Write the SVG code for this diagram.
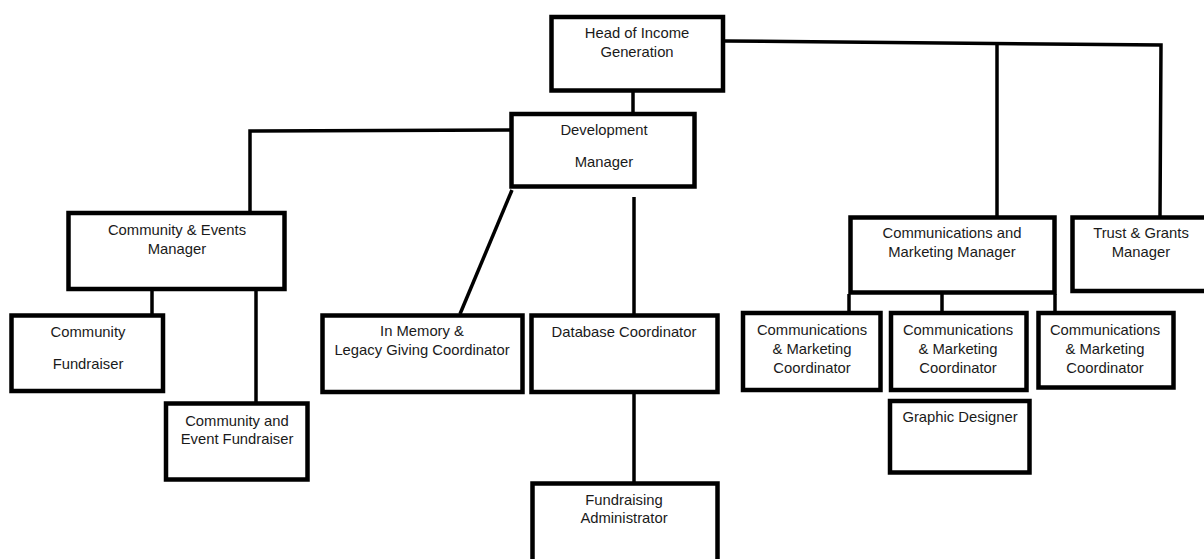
<svg xmlns="http://www.w3.org/2000/svg" width="1204" height="559" viewBox="0 0 1204 559">
<style>
.box{fill:#fff;stroke:#000;stroke-width:4.5}
.ln{fill:none;stroke:#000;stroke-width:3.5}
text{font-family:"Liberation Sans",Arial,sans-serif;font-size:14.8px;fill:#1a1a1a;text-anchor:middle}
</style>
<rect width="1204" height="559" fill="#fff"/>
<g id="connectors">
<line class="ln" x1="633" y1="92" x2="633" y2="113"/>
<polyline class="ln" points="511,130 250,131 250,212"/>
<line class="ln" x1="152" y1="291" x2="152" y2="314"/>
<line class="ln" x1="256" y1="291" x2="256" y2="402"/>
<line class="ln" x1="512" y1="190" x2="460" y2="314"/>
<line class="ln" x1="634" y1="197" x2="634" y2="314"/>
<line class="ln" x1="634" y1="393" x2="634" y2="482"/>
<polyline class="ln" points="725,41 1161,45 1160,216"/>
<line class="ln" x1="997" y1="44" x2="997" y2="216"/>
<line class="ln" x1="849" y1="294" x2="849" y2="311"/>
<line class="ln" x1="942" y1="294" x2="942" y2="311"/>
<line class="ln" x1="1055" y1="294" x2="1055" y2="311"/>
</g>
<g id="head"><rect class="box" x="551.5" y="17" width="171.5" height="73.5"/><text x="637" y="38">Head of Income</text><text x="637" y="57">Generation</text></g>
<g id="devmgr"><rect class="box" x="511.5" y="114" width="183" height="72.5"/><text x="604" y="135">Development</text><text x="604" y="167">Manager</text></g>
<g id="cemgr"><rect class="box" x="68.5" y="213" width="216" height="76"/><text x="177" y="235">Community &amp; Events</text><text x="177" y="254">Manager</text></g>
<g id="cfund"><rect class="box" x="11.5" y="315.5" width="151.5" height="75.5"/><text x="88" y="337">Community</text><text x="88" y="369">Fundraiser</text></g>
<g id="cefund"><rect class="box" x="166" y="403.5" width="141.5" height="76"/><text x="237" y="426">Community and</text><text x="237" y="444">Event Fundraiser</text></g>
<g id="inmemory"><rect class="box" x="322.5" y="315.5" width="200" height="76.5"/><text x="422" y="336">In Memory &amp;</text><text x="422" y="355">Legacy Giving Coordinator</text></g>
<g id="database"><rect class="box" x="531.5" y="315.5" width="186" height="76.5"/><text x="624" y="337">Database Coordinator</text></g>
<g id="fundadmin"><rect class="box" x="532.5" y="483.5" width="185" height="78"/><text x="624" y="505">Fundraising</text><text x="624" y="523">Administrator</text></g>
<g id="cmmgr"><rect class="box" x="850.5" y="217.5" width="204" height="75"/><text x="952" y="238">Communications and</text><text x="952" y="257">Marketing Manager</text></g>
<g id="trust"><rect class="box" x="1072.5" y="217.5" width="135" height="73.5"/><text x="1141" y="238">Trust &amp; Grants</text><text x="1141" y="257">Manager</text></g>
<g id="cmc1"><rect class="box" x="743" y="313" width="137.5" height="77"/><text x="812" y="335">Communications</text><text x="812" y="354">&amp; Marketing</text><text x="812" y="373">Coordinator</text></g>
<g id="cmc2"><rect class="box" x="891" y="313" width="135.5" height="77"/><text x="958" y="335">Communications</text><text x="958" y="354">&amp; Marketing</text><text x="958" y="373">Coordinator</text></g>
<g id="cmc3"><rect class="box" x="1038.5" y="313" width="135" height="74.5"/><text x="1105" y="335">Communications</text><text x="1105" y="354">&amp; Marketing</text><text x="1105" y="373">Coordinator</text></g>
<g id="graphic"><rect class="box" x="890" y="401" width="139.5" height="71.5"/><text x="960" y="422">Graphic Designer</text></g>
</svg>
